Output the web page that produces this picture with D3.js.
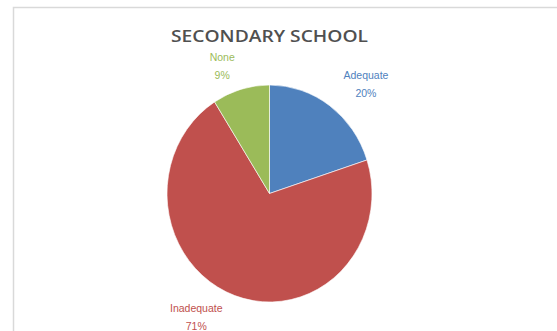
<!DOCTYPE html>
<html><head><meta charset="utf-8">
<script src="https://cdn.jsdelivr.net/npm/d3@7"></script>
<style>body{margin:0;background:#fff}svg{display:block}</style>
</head><body>
<script>
const categories = ["Adequate", "Inadequate", "None"];
const values = [20, 71, 9];
const title = "SECONDARY SCHOOL";
const colors = ["#4F81BD", "#C0504D", "#9BBB59"];
// label placement tweaks (style only): [radius, angle shift in deg]
const labelPos = [[147, 5], [143, 11], [137, -4]];

const W = 557, H = 331;
const svg = d3.select("body").append("svg").attr("width", W).attr("height", H);
svg.append("rect").attr("x", 13.5).attr("y", 7.5).attr("width", W).attr("height", H)
  .attr("fill", "#fff").attr("stroke", "#D9D9D9").attr("stroke-width", 1.5);

svg.append("text").attr("x", 269.5).attr("y", 42).attr("text-anchor", "middle")
  .attr("font-family", "Open Sans, Liberation Sans, Arial, sans-serif").attr("font-size", 17)
  .attr("font-weight", 600)
  .attr("fill", "#505050").attr("textLength", 197).attr("lengthAdjust", "spacingAndGlyphs")
  .text(title);

const cx = 269.5, cy = 193.5, R = 102.5, sy = 217 / 205;
const data = categories.map((c, i) => ({c, v: values[i], i}));
const pie = d3.pie().value(d => d.v).sort(null);
const arcs = pie(data);
const arc = d3.arc().innerRadius(0).outerRadius(R);
const g = svg.append("g").attr("transform", `translate(${cx},${cy}) scale(1,${sy})`);
g.selectAll("path").data(arcs).join("path")
  .attr("d", arc).attr("fill", d => colors[d.data.i])
  .attr("stroke", "#fff").attr("stroke-width", 0.6);

const lg = svg.append("g").attr("transform", `translate(${cx},${cy})`);
arcs.forEach(a => {
  const [r, sh] = labelPos[a.data.i];
  const ang = (a.startAngle + a.endAngle) / 2 + sh * Math.PI / 180;
  const x = r * Math.sin(ang), y = -r * Math.cos(ang);
  const t = lg.append("text").attr("text-anchor", "middle")
    .attr("font-family", "Liberation Sans, Arial, sans-serif").attr("font-size", 10.5)
    .attr("fill", colors[a.data.i]);
  t.append("tspan").attr("x", x).attr("y", y - 4).text(a.data.c);
  t.append("tspan").attr("x", x).attr("y", y + 14).text(Math.round(a.data.v) + "%");
});
</script>
</body></html>
